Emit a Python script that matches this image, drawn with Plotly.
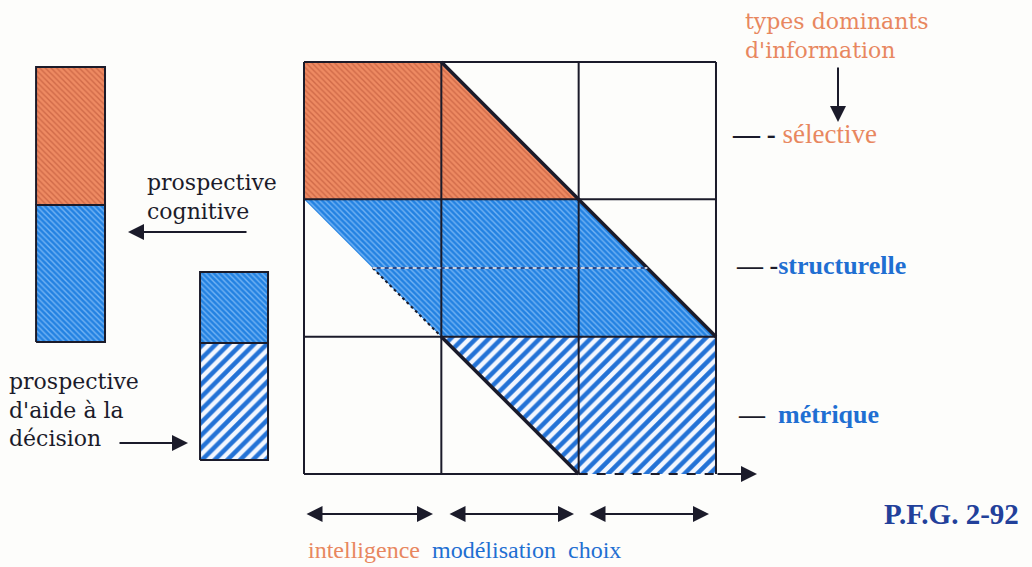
import plotly.graph_objects as go

# ── Diagram data (grid units: one cell = 1) ──────────────────────────────────
GRID_N = 3

# zones in the 3x3 matrix (phases on x, information types on y)
selective_x = [0, 1, 2, 0]
selective_y = [3, 3, 2, 2]
structurelle_x = [0, 2, 3, 1]
structurelle_y = [2, 2, 1, 1]
metrique_x = [1, 3, 3, 2]
metrique_y = [1, 1, 0, 0]

# side bars: (x left, x right) and segment bounds (bottom, top)
cognitive_bar_x = [-1.951, -1.449]
cognitive_orange = [1.959, 2.964]
cognitive_blue = [0.961, 1.959]
decision_bar_x = [-0.757, -0.262]
decision_blue = [0.954, 1.471]
decision_stripes = [0.102, 0.954]

row_labels = ["sélective", "structurelle", "métrique"]
phase_labels = ["intelligence", "modélisation", "choix"]

# ── Style ────────────────────────────────────────────────────────────────────
ORANGE = "#EE8A62"
ORANGE_TXT = "#E8875F"
BLUE = "#2382E2"
BLUE_TXT = "#1F6FD2"
INK = "#1B1B2A"
SERIF = "DejaVu Serif, Liberation Serif, serif"
TIMES = "Liberation Serif, Times New Roman, serif"

# pixel -> grid conversion for the text placement
X0, Y0, U = 304, 474, 137.33


def gx(p):
    return (p - X0) / U


def gy(p):
    return (Y0 - p) / U


def patch(xs, ys, bg, fg, shape, size, solidity, line=None):
    return go.Scatter(
        x=xs + xs[:1], y=ys + ys[:1],
        mode="lines", fill="toself", fillcolor=bg,
        fillpattern=dict(shape=shape, bgcolor=bg, fgcolor=fg,
                         size=size, solidity=solidity, fillmode="replace"),
        line=line or dict(width=0, color=bg),
        hoverinfo="skip", showlegend=False,
    )


def rect(xr, yr):
    return [xr[0], xr[1], xr[1], xr[0]], [yr[0], yr[0], yr[1], yr[1]]


def seg(xs, ys, color=INK, width=2, dash="solid"):
    return go.Scatter(x=xs, y=ys, mode="lines",
                      line=dict(color=color, width=width, dash=dash),
                      hoverinfo="skip", showlegend=False)


dense_orange = dict(bg=ORANGE, fg="#D06A48", shape="\\", size=4, solidity=0.35)
dense_blue = dict(bg=BLUE, fg="#74B4F4", shape="\\", size=4, solidity=0.35)
sparse_blue = dict(bg="#F3F7FF", fg="#2372D6", shape="/", size=9, solidity=0.5)

fig = go.Figure()

# matrix zones
fig.add_trace(patch(selective_x, selective_y, **dense_orange))
fig.add_trace(patch(structurelle_x, structurelle_y, **dense_blue))
fig.add_trace(patch(metrique_x, metrique_y, **sparse_blue))

# side bars
for xr, yr, st in [
    (cognitive_bar_x, cognitive_orange, dense_orange),
    (cognitive_bar_x, cognitive_blue, dense_blue),
    (decision_bar_x, decision_blue, dense_blue),
    (decision_bar_x, decision_stripes, sparse_blue),
]:
    xs, ys = rect(xr, yr)
    fig.add_trace(patch(xs, ys, **st, line=dict(color=INK, width=2)))

# grid lines
for k in range(GRID_N + 1):
    fig.add_trace(seg([k, k], [0, GRID_N]))
    if k == 0:
        fig.add_trace(seg([0, 2], [0, 0]))
        fig.add_trace(seg([2, 3], [0, 0], dash="dash"))
    else:
        fig.add_trace(seg([0, GRID_N], [k, k]))

# zone boundaries
fig.add_trace(seg([1, 3], [3, 1], width=3.5))
fig.add_trace(seg([1, 2], [1, 0], width=3.5))
fig.add_trace(seg([0.5, 1], [1.5, 1], width=2, dash="dot"))
fig.add_trace(seg([0.5, 2.5], [1.5, 1.5], color="#22306A", width=1.5))
fig.add_trace(seg([0.5, 2.5], [1.5, 1.5], color="white", width=1.5, dash="4px,4px"))

annotations = []


def arrow(x0, y0, x1, y1, side="end", width=2):
    annotations.append(dict(
        x=gx(x1), y=gy(y1), ax=gx(x0), ay=gy(y0),
        xref="x", yref="y", axref="x", ayref="y",
        text="", showarrow=True, arrowhead=2, arrowsize=1.6,
        arrowwidth=width, arrowcolor=INK, arrowside=side, standoff=0,
    ))


def label(text, x, y, color, size=22, anchor="left", bold=False, family=SERIF):
    if bold:
        text = "<b>" + text + "</b>"
    annotations.append(dict(
        x=gx(x), y=gy(y), xref="x", yref="y", text=text,
        showarrow=False, xanchor=anchor, yanchor="middle", align=anchor,
        borderpad=0, font=dict(family=family, size=size, color=color),
    ))


# axis arrow to the right of the matrix
arrow(716, 474, 757, 474)

# left side
label("prospective<br>cognitive", 146, 197, INK)
arrow(248, 232, 128, 232)
label("prospective<br>d'aide à la<br>décision", 8, 410, INK)
arrow(118, 443, 188, 443)

# information types
label("types dominants<br>d'information", 744, 36, ORANGE_TXT, size=22)
arrow(838, 66, 838, 122)


def dashed(marks, name):
    return "<b><span style='color:%s'>%s</span></b>%s" % (INK, marks, name)


label(dashed("— - ", row_labels[0]), 731, 134, ORANGE_TXT, size=27, family=TIMES)
label(dashed("— -", "<b>" + row_labels[1] + "</b>"), 735, 265, BLUE_TXT,
      size=26, family=TIMES)
label(dashed("—  ", "<b>" + row_labels[2] + "</b>"), 737, 414, BLUE_TXT,
      size=26, family=TIMES)

# phases
for (a, b), name, cx, col in zip(
    [(305, 433), (448, 574), (588, 709)], phase_labels,
    [364, 494, 594], [ORANGE_TXT, BLUE_TXT, BLUE_TXT],
):
    arrow(a, 514, b, 514, side="end+start")
    label(name, cx, 550, col, size=24, anchor="center", family=TIMES)

label("P.F.G. 2-92", 951, 514, "#22409A", size=29, anchor="center", bold=True,
      family=TIMES)

fig.update_layout(
    width=1032, height=567,
    margin=dict(l=0, r=0, t=0, b=0),
    paper_bgcolor="#FDFDFB", plot_bgcolor="#FDFDFB",
    xaxis=dict(range=[gx(0), gx(1032)], visible=False, fixedrange=True),
    yaxis=dict(range=[gy(567), gy(0)], visible=False, fixedrange=True),
    annotations=annotations,
    showlegend=False,
)

fig.write_html(
    "out.html",
    config={"displayModeBar": False},
    post_script="document.body.style.margin='0';",
)
